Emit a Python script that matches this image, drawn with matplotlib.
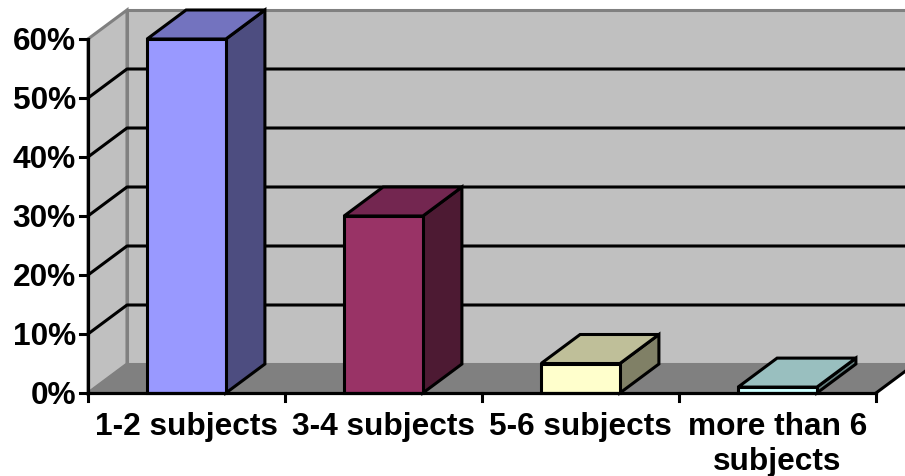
import matplotlib
matplotlib.use('Agg')
import matplotlib.pyplot as plt
from matplotlib.patches import Polygon

plt.rcParams['font.family'] = ['Liberation Sans', 'DejaVu Sans']

categories = ['1-2 subjects', '3-4 subjects', '5-6 subjects', 'more than 6\nsubjects']
values = [60, 30, 5, 1]
front_colors = ['#9999ff', '#993366', '#ffffcc', '#ccffff']
top_colors = ['#7373bf', '#732650', '#bfbf99', '#99bfbf']
side_colors = ['#4d4d80', '#4d1a33', '#808066', '#668080']
y_ticks = [0, 10, 20, 30, 40, 50, 60]

W, H = 905, 477
fig = plt.figure(figsize=(W / 100, H / 100), dpi=100, facecolor='white')
ax = fig.add_axes([88 / W, (H - 394) / H, 788 / W, 354 / H])
ax.set_xlim(0, len(categories))
ax.set_ylim(0, 60)
ax.axis('off')

# depth of the fake 3d box, in data units
dx = 39 / 197
dy = 29 / 59 * 10
n = len(categories)
top = y_ticks[-1]
lw = 2.2


def poly(pts, face, edge='black', width=lw, z=3):
    ax.add_patch(Polygon(pts, closed=True, facecolor=face, edgecolor=edge,
                         linewidth=width, clip_on=False, zorder=z, joinstyle='miter'))


# walls and floor
poly([(0, 0), (dx, dy), (dx, top + dy), (0, top)], '#c0c0c0', '#808080', 2.2, 1)
poly([(dx, dy), (n + dx, dy), (n + dx, top + dy), (dx, top + dy)], '#c0c0c0', '#808080', 2.2, 1)
poly([(0, 0), (n, 0), (n + dx, dy), (dx, dy)], '#808080', '#808080', 1.0, 1)

# gridlines run along the side wall and the back wall
for t in y_ticks[1:-1]:
    ax.plot([0, dx, n + dx], [t, t + dy, t + dy], color='black', lw=lw, clip_on=False, zorder=2)

# bars
for i, v in enumerate(values):
    x0, x1 = i + 0.3, i + 0.7
    poly([(x1, 0), (x1 + dx, dy), (x1 + dx, v + dy), (x1, v)], side_colors[i])
    poly([(x0, v), (x1, v), (x1 + dx, v + dy), (x0 + dx, v + dy)], top_colors[i])
    poly([(x0, 0), (x1, 0), (x1, v), (x0, v)], front_colors[i])

# axis lines, ticks and labels
ax.plot([0, 0], [0, top], color='black', lw=2.3, clip_on=False, zorder=4)
ax.plot([0, n], [0, 0], color='black', lw=2.3, clip_on=False, zorder=4)
ax.plot([n, n + dx], [0, dy], color='black', lw=lw, clip_on=False, zorder=2)
for t in y_ticks:
    ax.plot([-8 / 197, 0], [t, t], color='black', lw=2.2, clip_on=False, zorder=4)
    ax.text(-12 / 197, t - 0.3, f'{t}%', ha='right', va='center',
            fontsize=22.8, fontweight='bold', clip_on=False)
for i in range(n + 1):
    ax.plot([i, i], [0, -8 / 5.9], color='black', lw=2.2, clip_on=False, zorder=4)
for i, c in enumerate(categories):
    ax.text(i + 0.5, -3.0, c, ha='center', va='top', fontsize=22.8, fontweight='bold',
            linespacing=1.23, clip_on=False)

fig.savefig('out.png', dpi=100)
